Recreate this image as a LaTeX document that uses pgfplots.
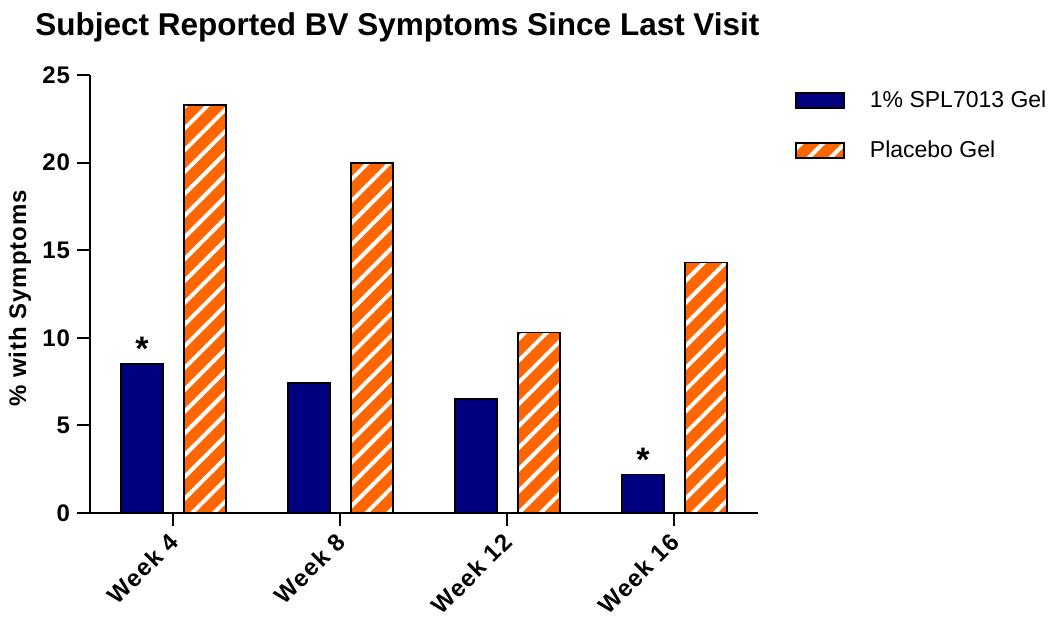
\documentclass[border=0pt]{standalone}
\usepackage{fontspec}
\setmainfont{Liberation Sans}
\usepackage{pgfplots}
\pgfplotsset{compat=1.18}
\usetikzlibrary{patterns.meta}
\definecolor{navyb}{RGB}{0,0,128}
\definecolor{orng}{RGB}{255,102,0}

\begin{document}
\begin{tikzpicture}
\useasboundingbox (-45pt,-52.5pt) rectangle (480.5pt,256.5pt);
\begin{axis}[
  at={(0,0)}, anchor=south west,
  scale only axis, width=334pt, height=219pt,
  xmin=-0.5, xmax=3.5, ymin=0, ymax=25,
  axis lines=left,
  axis line style={line width=1pt, black, -},
  xtick={0,1,2,3}, xticklabels={Week 4,Week 8,Week 12,Week 16},
  ytick={0,5,...,25},
  tick align=outside, major tick length=6.5pt,
  tick style={line width=1pt, black},
  yticklabel style={font=\fontsize{12}{14}\selectfont\bfseries\addfontfeature{LetterSpace=4}},
  /pgf/number format/assume math mode=true,
  xticklabel style={font=\fontsize{12}{14}\selectfont\bfseries\addfontfeature{LetterSpace=5}, xshift=2.5pt, yshift=-3.5pt, rotate=45, anchor=east},
  ylabel={\% with Symptoms},
  ylabel style={font=\fontsize{12}{14}\selectfont\bfseries\addfontfeature{LetterSpace=4}, at={(axis description cs:-0.105,0.49)}, anchor=center},
  ybar, bar width=21pt,
  legend style={at={(axis description cs:1.055,0.974)}, anchor=north west, draw=none, fill=none,
    font=\fontsize{11.5}{14}\selectfont, row sep=11pt, inner sep=0pt, cells={anchor=west}},
  legend image code/.code={\draw[#1,/tikz/.cd] (0pt,-3.75pt) rectangle (24pt,3.75pt); \path (34.5pt,0pt);},
]
\addplot[fill=navyb, draw=black, line width=0.9pt, bar shift=-15.75pt,
  nodes near coords, point meta=explicit symbolic,
  every node near coord/.append style={font=\fontsize{17}{17}\selectfont\bfseries, anchor=south, inner sep=0pt, yshift=1.2pt}]
  coordinates {(0,8.5)[*] (1,7.4)[] (2,6.5)[] (3,2.2)[*]};
\addlegendentry{1\% SPL7013 Gel}
\addplot[draw=black, line width=0.9pt, bar shift=15.75pt,
  preaction={fill=orng},
  pattern={Lines[angle=45,distance=7.7pt,line width=2pt]}, pattern color=white]
  coordinates {(0,23.3) (1,20.0) (2,10.3) (3,14.3)};
\addlegendentry{Placebo Gel}
\end{axis}
\node[anchor=base west, font=\fontsize{15.75}{18}\selectfont\bfseries, inner sep=0pt] at (-27.5pt,239pt) {Subject Reported BV Symptoms Since Last Visit};
\end{tikzpicture}
\end{document}
